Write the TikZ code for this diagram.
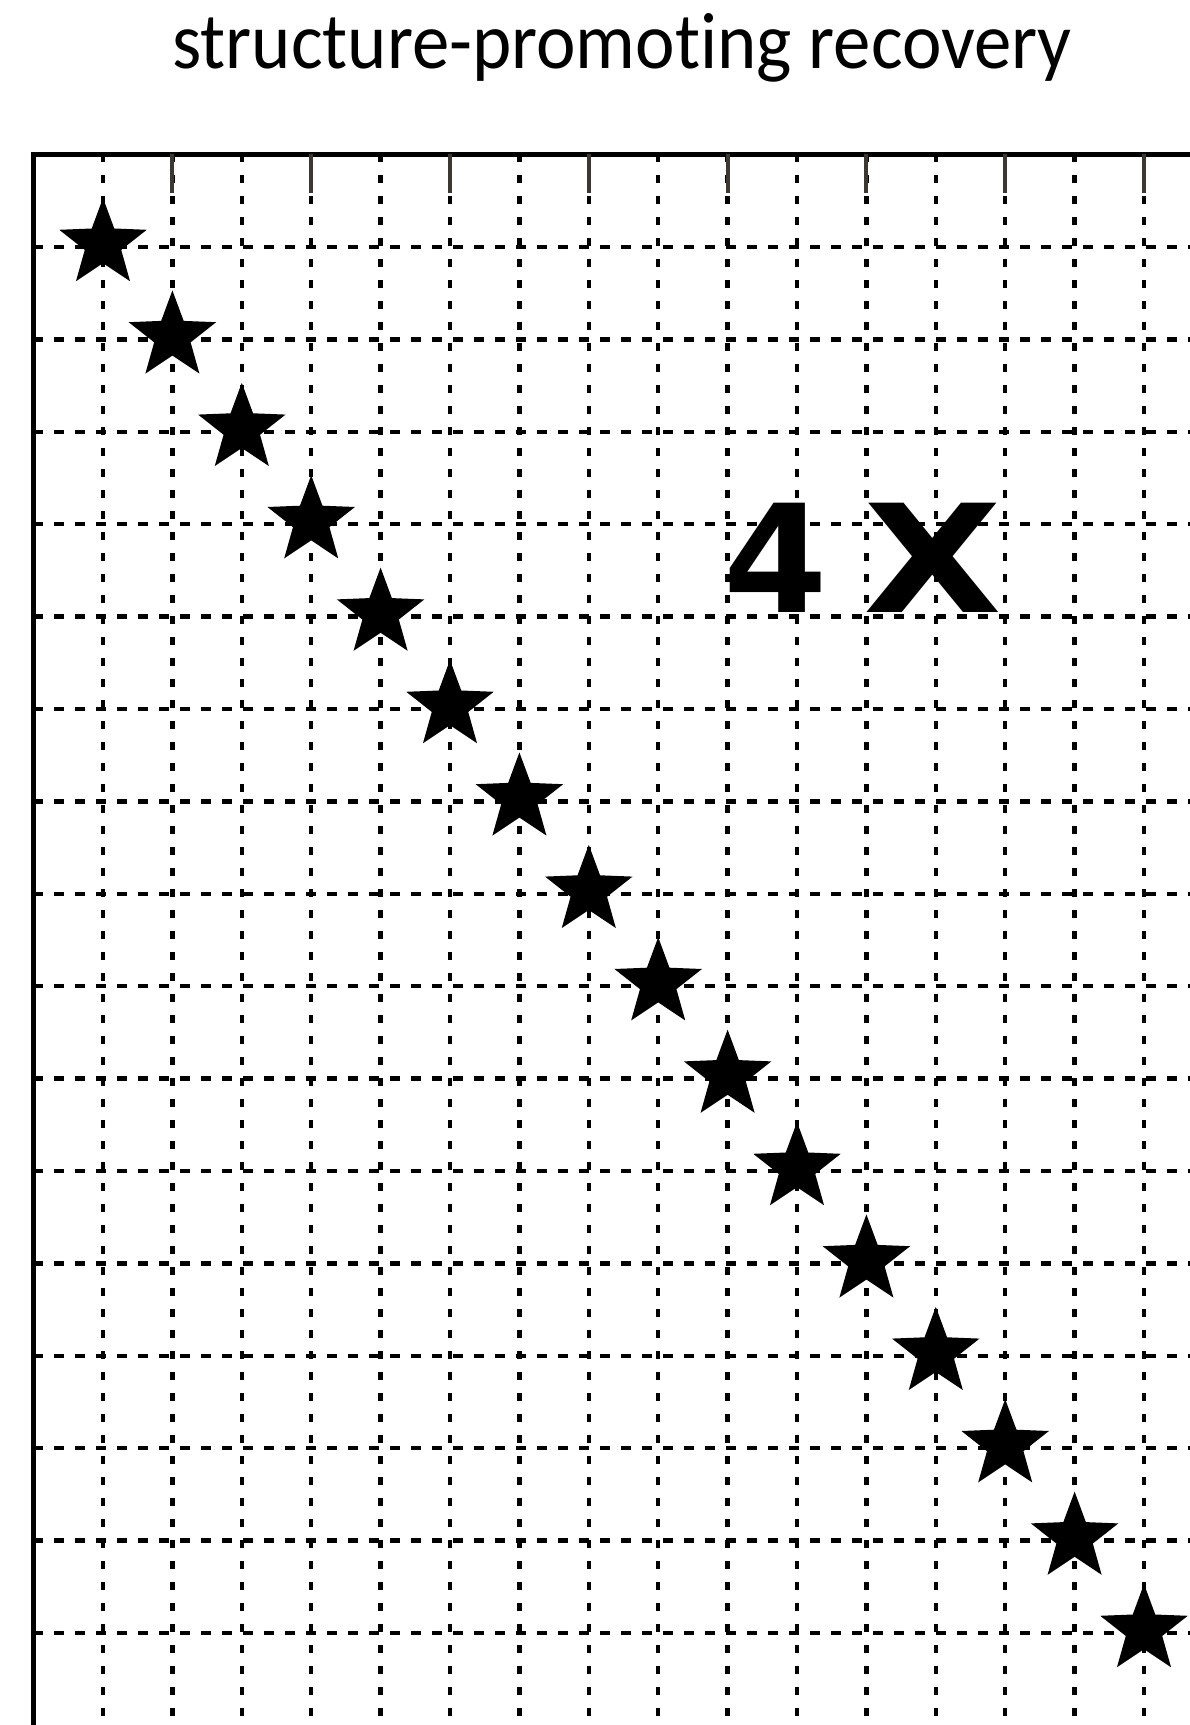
\documentclass[tikz,border=0pt]{standalone}
\usepackage{fontspec}
\usepackage{xcolor}
\usetikzlibrary{shapes.geometric}
\setmainfont[Ligatures=NoCommon]{Carlito}
\newfontfamily\heavyfont{DejaVu Sans}
\definecolor{gridcol}{RGB}{0,0,0}
\definecolor{tickcol}{RGB}{60,55,48}
\tikzset{
  hline/.style={gridcol, line width=4.5pt, dash pattern=on 10pt off 11pt},
  vline/.style={gridcol, line width=4.5pt, dash pattern=on 8pt off 13pt},
  atom/.style={star, star points=5, star point ratio=2.4, fill=black,
    draw=none, minimum size=92pt, inner sep=0pt},
  bigmark/.style={anchor=base, inner sep=0pt,
    font=\heavyfont\bfseries\fontsize{150}{160}\selectfont}
}

\begin{document}
\begin{tikzpicture}[x=1pt, y=-1pt, line cap=butt]
\useasboundingbox (0,0) rectangle (1190,1725);

% ------------------------------------------------------------------
% Dashed grid: 16 x 16 lines, running off the right and bottom edges
% ------------------------------------------------------------------
\foreach \i in {0,...,15}{ \draw[vline] (103+69.4*\i,154) -- (103+69.4*\i,1725); }
\foreach \j in {0,...,15}{ \draw[hline] (33,247+92.4*\j) -- (1190,247+92.4*\j); }

% ------------------------------------------------------------------
% Frame (top and left only) and the short ticks on every other column
% ------------------------------------------------------------------
\draw[black, line width=5pt] (33,1725) -- (33,154) -- (1190,154);
\foreach \i in {1,3,...,15}{ \draw[tickcol, line width=4pt] (103+69.4*\i,154) -- (103+69.4*\i,193); }

% ------------------------------------------------------------------
% Stars on the diagonal, one per grid crossing
% ------------------------------------------------------------------
\foreach \k in {0,...,15}{ \node[atom] (s\k) at (103+69.4*\k,244+92.4*\k) {}; }

% ------------------------------------------------------------------
% Labels
% ------------------------------------------------------------------
\node[anchor=base, font=\fontsize{80}{90}\selectfont, inner sep=0pt] (title) at (622,68)
  {\scalebox{0.935}[1]{structure-promoting recovery}};
\node[bigmark] (four) at (776,612) {4};
\node[bigmark] (times) at (933,612) {\scalebox{1.2}[1]{X}};

\end{tikzpicture}
\end{document}
